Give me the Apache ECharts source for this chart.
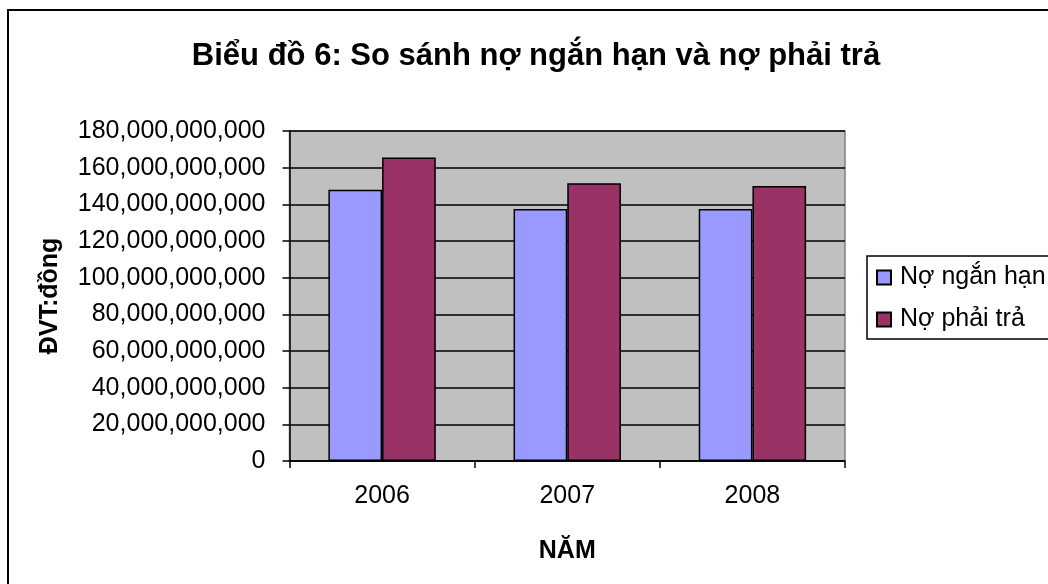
<!DOCTYPE html>
<html>
<head>
<meta charset="utf-8">
<script src="https://cdn.jsdelivr.net/npm/echarts@6/dist/echarts.min.js"></script>
<style>
  html, body { margin: 0; padding: 0; background: #fff; }
  #main { width: 1048px; height: 584px; }
</style>
</head>
<body>
<div id="main"></div>
<script>
const years = ['2006', '2007', '2008'];
const noNganHan = [148000000000, 137500000000, 137500000000];
const noPhaiTra = [165500000000, 151500000000, 150000000000];
const seriesNames = ['Nợ ngắn hạn', 'Nợ phải trả'];

const font = 'Liberation Sans, Arial, sans-serif';
const chart = echarts.init(document.getElementById('main'));

const option = {
  animation: false,
  backgroundColor: '#fff',
  textStyle: { fontFamily: font, color: '#000' },
  title: {
    text: 'Biểu đồ 6: So sánh nợ ngắn hạn và nợ phải trả',
    left: 531,
    textAlign: 'center',
    top: 36,
    textStyle: { fontFamily: font, fontSize: 31, fontWeight: 'bold', color: '#000' }
  },
  graphic: [
    {
      type: 'rect',
      shape: { x: 8, y: 10, width: 1100, height: 700 },
      style: { fill: 'none', stroke: '#000', lineWidth: 2 },
      silent: true,
      z: -10
    }
  ],
  legend: {
    orient: 'vertical',
    left: 867,
    top: 256,
    data: seriesNames,
    icon: 'rect',
    itemWidth: 14,
    itemHeight: 14,
    itemGap: 17,
    padding: [9, 40, 7, 9],
    borderColor: '#000',
    borderWidth: 1.5,
    textStyle: { fontFamily: font, fontSize: 25, color: '#000', padding: [0, 0, 0, 4] }
  },
  grid: {
    left: 289.5,
    right: 203,
    top: 131,
    bottom: 123,
    show: true,
    backgroundColor: '#c0c0c0',
    borderColor: '#808080',
    borderWidth: 1.5
  },
  xAxis: {
    type: 'category',
    data: years,
    name: 'NĂM',
    nameLocation: 'middle',
    nameGap: 78,
    nameTextStyle: { fontFamily: font, fontSize: 25, fontWeight: 'bold', color: '#000' },
    axisLine: { lineStyle: { color: '#000', width: 1.5 } },
    axisTick: { show: true, length: 7, lineStyle: { color: '#000', width: 1.5 } },
    axisLabel: { fontFamily: font, fontSize: 25, color: '#000', margin: 23 }
  },
  yAxis: {
    type: 'value',
    min: 0,
    max: 180000000000,
    interval: 20000000000,
    name: 'ĐVT:đồng',
    nameLocation: 'middle',
    nameGap: 227,
    nameRotate: 90,
    nameTextStyle: { fontFamily: font, fontSize: 25, fontWeight: 'bold', color: '#000' },
    axisLine: { show: true, lineStyle: { color: '#000', width: 1.5 } },
    axisTick: { show: true, length: 7, lineStyle: { color: '#000', width: 1.5 } },
    axisLabel: {
      fontFamily: font,
      fontSize: 25,
      color: '#000',
      margin: 24,
      formatter: function (v) { return v.toLocaleString('en-US'); }
    },
    splitLine: { show: true, lineStyle: { color: '#000', width: 1.5 } }
  },
  series: [
    {
      name: seriesNames[0],
      type: 'bar',
      data: noNganHan,
      barGap: '0%',
      barCategoryGap: '42%',
      itemStyle: { color: '#9999ff', borderColor: '#000', borderWidth: 1.5 }
    },
    {
      name: seriesNames[1],
      type: 'bar',
      data: noPhaiTra,
      itemStyle: { color: '#993366', borderColor: '#000', borderWidth: 1.5 }
    }
  ]
};

chart.setOption(option);
</script>
</body>
</html>
